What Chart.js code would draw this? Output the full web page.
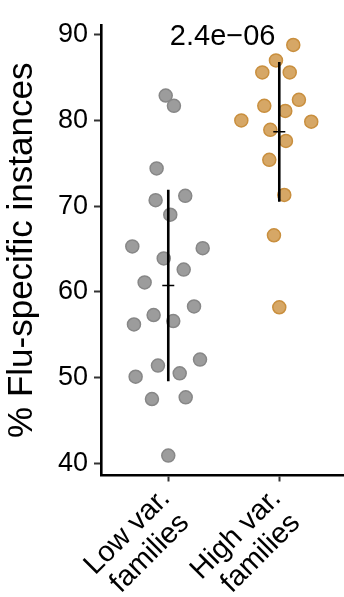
<!DOCTYPE html>
<html>
<head>
<meta charset="utf-8">
<script src="https://cdn.jsdelivr.net/npm/chart.js@4"></script>
<style>
  html, body { margin: 0; padding: 0; background: #fff; }
  #wrap { width: 344px; height: 597px; }
</style>
</head>
<body>
<div id="wrap"><canvas id="c" width="344" height="597"></canvas></div>
<script>
// groups on the x axis
const groups = [['Low var.', 'families'], ['High var.', 'families']]
const yTicks = [40, 50, 60, 70, 80, 90]
const pValue = '2.4e\u221206'

// % flu-specific instances per family
const lowVals = [82.9, 81.7, 74.4, 70.7, 71.2, 69.0, 65.3, 65.1, 63.9, 62.6, 61.1,
                 58.3, 57.3, 56.6, 56.2, 52.1, 51.4, 50.5, 50.1, 47.5, 47.7, 40.9]
const lowJitter = [-0.023, 0.051, -0.105, -0.114, 0.153, 0.018, -0.324, 0.31, -0.041, 0.139, -0.213,
                   0.232, -0.132, 0.045, -0.309, 0.286, -0.093, 0.103, -0.294, -0.147, 0.157, 0]
const highVals = [88.8, 87.0, 85.6, 85.6, 82.4, 81.7, 81.1, 80.0, 79.85, 78.9, 77.6, 75.4, 71.3, 66.6, 58.2]
const highJitter = [0.126, -0.03, -0.153, 0.094, 0.177, -0.135, 0.054, -0.342, 0.288, -0.081, 0.06, -0.09, 0.045, -0.048, 0]

const mean = a => a.reduce((s, v) => s + v, 0) / a.length
const sd = a => {
    const m = mean(a)
    return Math.sqrt(a.reduce((s, v) => s + (v - m) ** 2, 0) / (a.length - 1))
}
const pts = (vals, jit, x) => vals.map((v, i) => ({x: x + jit[i], y: v}))
const bar = (vals, x) => [{x: x, y: mean(vals) - sd(vals)}, {x: x, y: mean(vals) + sd(vals)}]

const FONT = '"Liberation Sans", Arial, sans-serif'

// p-value on top, and the slanted two-line group names under the x ticks
const labels = {
    id: 'labels',
    afterDraw(chart) {
        const ctx = chart.ctx
        const xs = chart.scales.x
        ctx.save()
        ctx.fillStyle = '#000'
        ctx.font = '29px ' + FONT
        ctx.textAlign = 'center'
        ctx.textBaseline = 'alphabetic'
        ctx.fillText(pValue, xs.getPixelForValue(1.49), chart.chartArea.top + 20)

        ctx.font = '29px ' + FONT
        ctx.textAlign = 'right'
        groups.forEach((lines, i) => {
            ctx.save()
            ctx.translate(xs.getPixelForValue(i + 1) + 3, xs.top + 24)
            ctx.rotate(-Math.PI / 4)
            lines.forEach((t, j) => ctx.fillText(t, -4 * j, 31 * j))
            ctx.restore()
        })
        ctx.restore()
    }
}

new Chart(document.getElementById('c'), {
    type: 'scatter',
    data: {
        datasets: [
            {data: bar(lowVals, 1), showLine: true, borderColor: '#000', borderWidth: 2.6, pointRadius: 0, order: 0},
            {data: bar(highVals, 2), showLine: true, borderColor: '#000', borderWidth: 2.6, pointRadius: 0, order: 0},
            {data: [{x: 1, y: mean(lowVals)}, {x: 2, y: mean(highVals)}], pointStyle: 'line',
             pointRadius: 6, borderColor: '#000', borderWidth: 1.5, order: 0},
            {data: pts(lowVals, lowJitter, 1), backgroundColor: '#9c9c9c', borderColor: '#878787',
             borderWidth: 1.5, pointRadius: 6.5, order: 1},
            {data: pts(highVals, highJitter, 2), backgroundColor: '#d6a766', borderColor: '#c98f3e',
             borderWidth: 1.5, pointRadius: 6.5, order: 1}
        ]
    },
    options: {
        responsive: false,
        animation: false,
        layout: {autoPadding: false, padding: {top: 25, right: 0, bottom: 0, left: 0}},
        plugins: {legend: {display: false}, tooltip: {enabled: false}},
        scales: {
            x: {
                type: 'linear',
                min: 0.394,
                max: 2.583,
                afterBuildTicks: s => { s.ticks = groups.map((g, i) => ({value: i + 1})) },
                afterFit: s => { s.height = 121.5 },
                grid: {drawOnChartArea: false, tickLength: 6, tickColor: '#333', tickWidth: 2},
                border: {color: '#000', width: 2.6},
                ticks: {display: false}
            },
            y: {
                min: 38.58,
                max: 91.13,
                afterBuildTicks: s => { s.ticks = yTicks.map(v => ({value: v})) },
                afterFit: s => { s.width = 101 },
                grid: {drawOnChartArea: false, tickLength: 7, tickColor: '#333', tickWidth: 2},
                border: {color: '#000', width: 2.6},
                ticks: {color: '#000', font: {family: FONT, size: 27}, padding: 6},
                title: {
                    display: true,
                    text: '% Flu-specific instances',
                    color: '#000',
                    font: {family: FONT, size: 35},
                    padding: {top: 1, bottom: 0}
                }
            }
        }
    },
    plugins: [labels]
})
</script>
</body>
</html>
